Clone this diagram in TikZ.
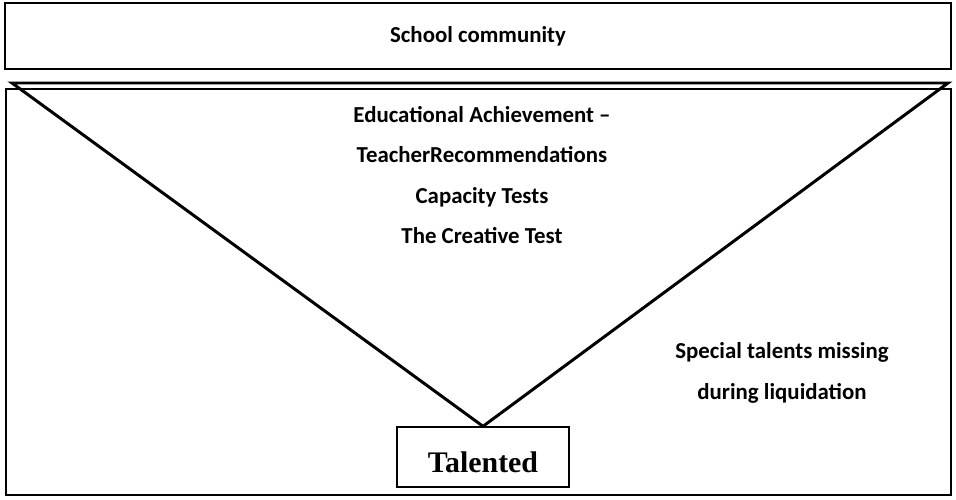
\documentclass[tikz,border=0pt]{standalone}
\usepackage{fontspec}
\setmainfont{Liberation Serif}
\newfontfamily\labelfont{Carlito}
\usetikzlibrary{positioning}

\tikzset{
  panel/.style = {draw, line width = 0.8pt, inner sep = 0pt},
  label text/.style = {font = \labelfont\bfseries\fontsize{13}{23}\selectfont, align = center},
}

\begin{document}
\begin{tikzpicture}[x = 0.2mm, y = -0.2mm]
            \useasboundingbox (0,0) rectangle (956,500);

            % the two frames
            \node [panel, minimum width = 189.2mm, minimum height = 13.2mm,
                   label text] (school) at (478,36) {School community};
            \node [panel, minimum width = 189mm, minimum height = 81.2mm]
                  (field) at (478.5,292) {};

            \node [panel, minimum width = 34.4mm, minimum height = 12mm, text height = 18pt,
                   font = \bfseries\fontsize{17}{19}\selectfont] (talented) at (483,457) {Talented};

            % the funnel
            \coordinate (left top) at (12,83);
            \coordinate (right top) at (948,83);
            \draw [line width = 1.7pt, line join = miter]
                  (left top) -- (right top) -- (talented.north) -- cycle;

            \node [label text] (criteria) at (482,175)
                  {Educational Achievement –\\ TeacherRecommendations\\ Capacity Tests\\ The Creative Test};
            \node [label text] (missing) at (782,373)
                  {Special talents missing\\ during liquidation};
        \end{tikzpicture}
\end{document}
